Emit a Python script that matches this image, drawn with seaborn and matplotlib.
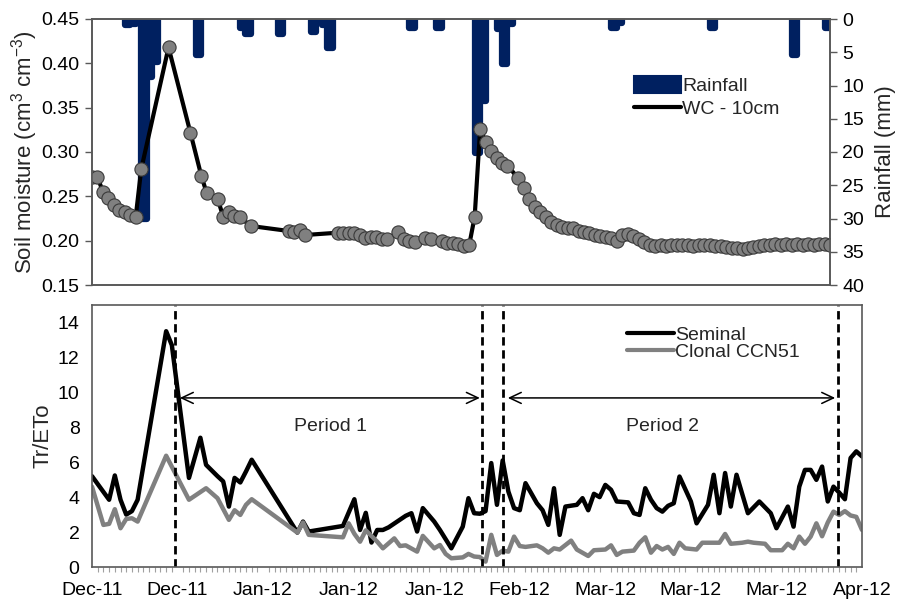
import numpy as np
import pandas as pd
import seaborn as sns
import matplotlib.pyplot as plt
import matplotlib.dates as mdates
from matplotlib.patches import Patch
from matplotlib.lines import Line2D

"""
Data (read off the figure, days counted from 2 Dec 2011)
"""
start = pd.Timestamp('2011-12-02')
n_days = 135

# volumetric water content at 10 cm (cm3 cm-3)
wc_day = [0, 1, 2, 3, 4, 5, 6, 7, 8, 9, 14, 18, 20, 21, 23, 24, 25, 26, 27, 29,
          36, 37, 38, 39, 45, 46, 47, 48, 49, 50, 51, 52, 53, 54, 56, 57, 58, 59,
          61, 62, 64, 65, 66, 67, 68, 69, 70, 71, 72, 73, 74, 75, 76, 78, 79, 80,
          81, 82, 83, 84, 85, 86, 87, 88, 89, 90, 91, 92, 93, 94, 95, 96, 97, 98,
          99, 100, 101, 102, 103, 104, 105, 106, 107, 108, 109, 110, 111, 112, 113,
          114, 115, 116, 117, 118, 119, 120, 121, 122, 123, 124, 125, 126, 127, 128,
          129, 130, 131, 132, 133, 134, 135]
wc_value = [0.2715, 0.2715, 0.2553, 0.2478, 0.2402, 0.2346, 0.232, 0.229, 0.227, 0.2805,
            0.418, 0.3218, 0.273, 0.2534, 0.247, 0.227, 0.2327, 0.2282, 0.227, 0.2166,
            0.2109, 0.2094, 0.212, 0.2064, 0.209, 0.2087, 0.2087, 0.2087, 0.2064, 0.2027,
            0.2045, 0.2045, 0.2019, 0.2019, 0.2094, 0.2019, 0.1996, 0.1981,
            0.2034, 0.2019, 0.1996, 0.197, 0.197, 0.1959, 0.1944, 0.195, 0.227, 0.3256,
            0.3116, 0.3011, 0.2936, 0.2872, 0.2846, 0.2703, 0.259, 0.247,
            0.2383, 0.232, 0.227, 0.2207, 0.2177, 0.2158, 0.2146, 0.2139, 0.2113, 0.2094,
            0.2087, 0.2064, 0.2056, 0.2045, 0.2034, 0.1996, 0.2064, 0.2072,
            0.2056, 0.2019, 0.1989, 0.1951, 0.1944, 0.195, 0.1945, 0.195, 0.1955, 0.195,
            0.195, 0.1945, 0.195, 0.1955, 0.195,
            0.1945, 0.194, 0.193, 0.192, 0.1915, 0.191, 0.1915, 0.1925, 0.1935, 0.195,
            0.1955, 0.196, 0.1955, 0.196, 0.1955, 0.196, 0.1955, 0.196, 0.1955, 0.196,
            0.1965, 0.1955]

# daily rainfall (mm)
rain_day = [6, 7, 9, 10, 11, 19, 27, 28, 34, 40, 42, 43, 58, 63, 70, 71, 74, 75, 76,
            95, 96, 113, 128, 134]
rain_mm = [0.9, 0.7, 30.0, 8.7, 6.4, 5.4, 1.4, 2.2, 2.2, 1.9, 0.9, 4.4, 1.4, 1.4, 20.2,
           12.4, 1.5, 6.7, 0.7, 1.4, 0.65, 1.4, 5.4, 1.4]

# transpiration / reference evapotranspiration
seminal_day = [0, 3, 4, 5, 6, 7, 8, 13, 14, 15, 17, 19, 20, 22, 23, 24, 25, 26, 27, 28,
               36, 37, 38, 44, 46, 47, 48, 49, 50, 51, 52, 55, 56, 57, 58, 60, 61, 63,
               65, 66, 67, 68, 69, 70, 71, 72, 73, 74, 75, 76, 78, 79, 80, 81, 82, 83,
               85, 86, 87, 88, 89, 90, 91, 92, 94, 95, 96, 97, 98, 99, 100, 101, 102,
               103, 105, 106, 108, 109, 110, 111, 112, 113, 115, 117, 119, 120, 122,
               123, 124, 125, 126, 127, 128, 129, 130, 131, 132, 133, 134, 135]
seminal_tr = [5.2, 3.85, 5.24, 3.85, 3.0, 3.2, 3.85, 13.5, 12.7, 10.15, 5.1, 7.4, 5.85,
              5.2, 4.9, 3.46, 5.1, 4.84, 5.47, 6.14,
              1.97, 2.6, 2.03, 2.35, 3.88, 2.12, 3.1, 1.4, 2.12, 2.12, 2.27, 2.93, 3.08,
              2.03, 3.37, 2.6, 2.12, 1.07,
              2.31, 3.94, 3.08, 3.05, 3.2, 5.95, 3.56, 6.1, 4.32, 3.37, 3.25, 4.8, 3.65,
              3.25, 2.41, 4.51, 1.84, 3.46,
              3.56, 3.94, 3.25, 4.19, 4.0, 4.7, 4.42, 3.75, 3.7, 3.08, 2.98, 4.51, 3.85,
              3.37, 3.17, 3.5, 3.65,
              5.18, 3.75, 2.5, 3.56, 5.28, 3.08, 5.38, 3.46, 5.28, 3.08, 3.75, 3.08, 2.22,
              3.46, 2.31, 4.6, 5.56, 5.56, 4.99, 5.75, 3.75, 4.6, 4.26, 3.88, 6.24, 6.62,
              6.33]
clonal_day = [0, 2, 3, 4, 5, 6, 7, 8, 13, 17, 20, 22, 24, 25, 26, 27, 28, 36, 37, 38,
              44, 45, 46, 47, 48, 50, 51, 53, 54, 55, 57, 58, 60, 61, 62, 63, 65, 66,
              67, 68, 69, 70, 71, 72, 73, 74, 75, 76, 78, 79, 80, 81, 82, 84, 85, 87,
              88, 90, 91, 92, 93, 95, 96, 97, 98, 99, 100, 101, 102, 103, 104, 106,
              107, 110, 111, 112, 114, 115, 116, 118, 119, 121, 122, 123, 124, 125,
              126, 127, 128, 129, 130, 131, 132, 133, 134, 135]
clonal_tr = [4.6, 2.41, 2.47, 3.31, 2.22, 2.75, 2.79, 2.6, 6.37, 3.85, 4.51, 3.94, 2.7,
             3.25, 2.98, 3.56, 3.88, 1.97, 2.55, 1.84,
             1.7, 2.5, 1.9, 1.45, 2.1, 1.45, 1.07, 1.64, 1.2, 1.24, 0.88, 1.78, 1.07,
             1.26, 0.75, 0.5, 0.55, 0.75,
             0.6, 0.57, 0.31, 1.84, 0.69, 0.94, 0.88, 1.74, 1.2, 1.15, 1.24, 1.07, 0.82,
             1.07, 1.0, 1.51, 1.0, 0.63,
             0.96, 1.0, 1.24, 0.69, 0.88, 0.94, 1.39, 1.7, 0.82, 1.2, 1.0, 1.15, 0.75,
             1.39, 1.07, 1.0,
             1.39, 1.39, 1.89, 1.33, 1.39, 1.45, 1.39, 1.33, 0.96, 0.96, 1.33, 1.07,
             1.74, 1.33,
             1.74, 2.5, 1.76, 2.55, 3.17, 2.98, 3.2, 2.95, 2.87, 2.12]

# measurement periods (days from start)
period_lines = [14.6, 68.4, 72.1, 130.8]
period_spans = [(15.4, 68.0), (72.9, 130.3)]
period_label_day = [41.8, 100.1]
period_names = ['Period 1', 'Period 2']


def to_date(days):
    return start + pd.to_timedelta(np.asarray(days, dtype=float), unit='D')


wc = pd.DataFrame({'date': to_date(wc_day), 'wc': wc_value})
seminal = pd.DataFrame({'date': to_date(seminal_day), 'tr': seminal_tr})
clonal = pd.DataFrame({'date': to_date(clonal_day), 'tr': clonal_tr})

"""
Figure
"""
sns.set_theme(style='white')
plt.rcParams['font.family'] = ['Liberation Sans', 'DejaVu Sans']
plt.rcParams['mathtext.fontset'] = 'custom'
plt.rcParams['mathtext.rm'] = 'Liberation Sans'
plt.rcParams['mathtext.it'] = 'Liberation Sans:italic'
plt.rcParams['mathtext.bf'] = 'Liberation Sans:bold'

navy = '#002060'
frame = '#595959'
fs = 14
fs_lab = 16

fig = plt.figure(figsize=(8.98, 6.01), dpi=100)
ax = fig.add_axes([92 / 898, 1 - 285 / 601, 738 / 898, 266 / 601])
ax_rain = ax.twinx()
ax2 = fig.add_axes([92 / 898, 1 - 567 / 601, 770 / 898, 262 / 601])

x_lo, x_hi = start, start + pd.Timedelta(days=n_days)

# rainfall bars on the inverted right axis
bars = ax_rain.bar(mdates.date2num(to_date(rain_day)), rain_mm, width=1, align='edge',
                   color=navy, edgecolor=navy, linewidth=4.5)
for b in bars:
    b.set_joinstyle('round')
ax_rain.set_ylim(40, 0)
ax_rain.set_yticks(np.arange(0, 41, 5))
ax_rain.set_ylabel('Rainfall (mm)', fontsize=fs_lab, labelpad=8)

# soil moisture line on top of the bars
ax.set_zorder(ax_rain.get_zorder() + 1)
ax.patch.set_visible(False)
sns.lineplot(data=wc, x='date', y='wc', ax=ax, color='black', linewidth=3,
             marker='o', markersize=9.5, markerfacecolor='#808080',
             markeredgecolor='#3a3a3a', markeredgewidth=0.8, legend=False)
ax.set_ylim(0.15, 0.45)
ax.set_yticks(np.arange(0.15, 0.451, 0.05))
ax.yaxis.set_major_formatter(plt.FormatStrFormatter('%.2f'))
ax.set_xlim(x_lo, x_hi)
ax.set_xlabel('')
ax.set_ylabel('Soil moisture (cm$^{3}$ cm$^{-3}$)', fontsize=fs_lab, labelpad=1)
ax.tick_params(axis='x', bottom=False, labelbottom=False)
ax_rain.tick_params(axis='x', bottom=False, labelbottom=False)

ax.legend([Patch(facecolor=navy, edgecolor=navy, linewidth=1.5),
           Line2D([], [], color='black', linewidth=3)],
          ['Rainfall', 'WC - 10cm'], loc='upper left', bbox_to_anchor=(0.735, 0.785),
          frameon=False, fontsize=fs, handlelength=2.4, handleheight=0.95,
          handletextpad=0.05, labelspacing=0.2, borderpad=0, borderaxespad=0)

# Tr/ETo panel
sns.lineplot(data=seminal, x='date', y='tr', ax=ax2, color='black', linewidth=3.2,
             legend=False)
sns.lineplot(data=clonal, x='date', y='tr', ax=ax2, color='#808080', linewidth=3.2,
             legend=False)
for d in period_lines:
    ax2.axvline(to_date([d])[0], color='black', linewidth=2, linestyle=(0, (3, 1.7)))
for (a, b), lab_d, name in zip(period_spans, period_label_day, period_names):
    ax2.annotate('', xy=(to_date([b])[0], 9.68), xytext=(to_date([a])[0], 9.68),
                 arrowprops=dict(arrowstyle='<->,head_length=0.7,head_width=0.33',
                                 color='black', linewidth=1.1, shrinkA=0, shrinkB=0))
    ax2.text(to_date([lab_d])[0], 8.05, name, ha='center', va='center', fontsize=fs)

ax2.set_xlim(x_lo, x_hi)
ax2.set_ylim(0, 15)
ax2.set_yticks(np.arange(0, 15, 2))
ax2.set_xticks(pd.date_range(start, periods=10, freq='15D'))
ax2.xaxis.set_major_formatter(mdates.DateFormatter('%b-%y'))
ax2.xaxis.set_minor_locator(mdates.DayLocator())
ax2.set_xlabel('')
ax2.set_ylabel('Tr/ETo', fontsize=fs_lab, labelpad=3)

ax2.legend([Line2D([], [], color='black', linewidth=3),
            Line2D([], [], color='#808080', linewidth=3)],
           ['Seminal', 'Clonal CCN51'], loc='upper left', bbox_to_anchor=(0.695, 0.92),
           frameon=False, fontsize=fs, handlelength=2.4, handletextpad=0.05,
           labelspacing=0.0, borderpad=0, borderaxespad=0)

for a in (ax, ax_rain, ax2):
    for s in a.spines.values():
        s.set_color(frame)
        s.set_linewidth(1.2)
    a.tick_params(axis='y', which='major', direction='out', length=5, width=1,
                  color=frame, labelsize=fs, labelcolor='black', pad=4)
ax2.tick_params(axis='x', which='major', direction='out', length=7, width=1,
                color=frame, labelsize=fs, labelcolor='black', pad=4)
ax2.tick_params(axis='x', which='minor', direction='out', length=3.5, width=0.8,
                color='#a0a0a0', bottom=True)
ax_rain.tick_params(axis='y', left=False, right=True)

fig.savefig('out.png', dpi=100)
plt.close()
